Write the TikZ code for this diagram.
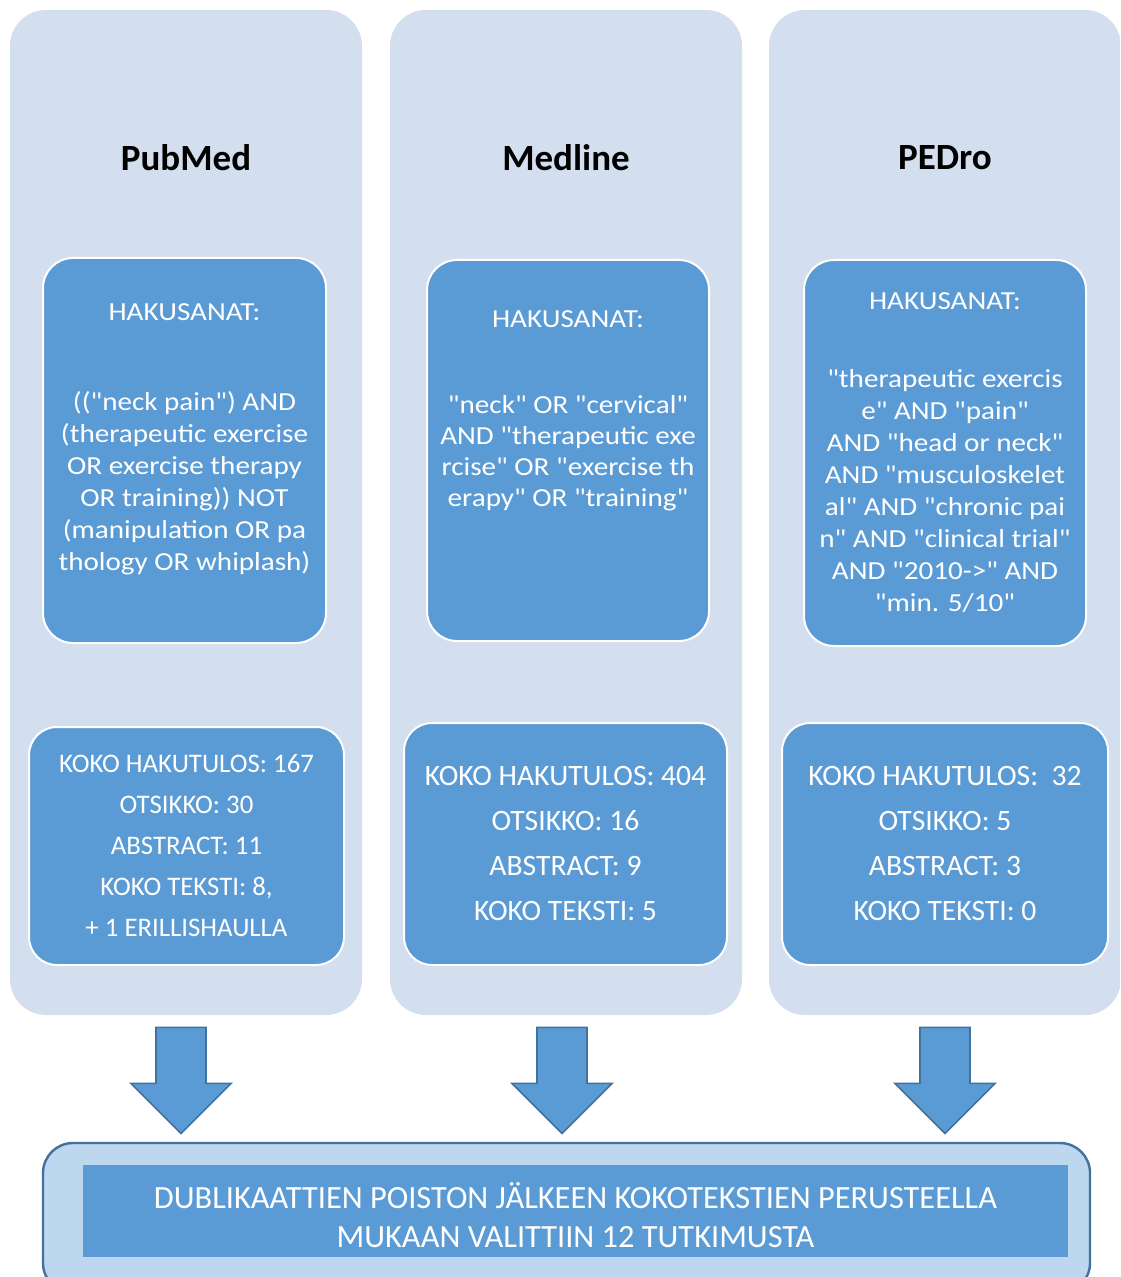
\documentclass[tikz,border=0pt]{standalone}
\usepackage{fontspec}
\setmainfont{Carlito}[Ligatures=TeXOff]
\newfontfamily\widefont{Carlito}[Ligatures=TeXOff, FakeStretch=1.12]
\usetikzlibrary{calc,positioning}
\definecolor{colbg}{HTML}{D3DEEF}
\definecolor{boxblue}{HTML}{5B9BD5}
\definecolor{edgeblue}{HTML}{41719C}
\definecolor{paleblue}{HTML}{BDD7EE}
\tikzset{
  dbcolumn/.style={fill=colbg, rounded corners=18pt, inner sep=0pt,
    minimum width=176pt, minimum height=502.5pt},
  dbtitle/.style={font=\bfseries\fontsize{18.5}{22}\selectfont},
  querybox/.style={fill=boxblue, draw=white, line width=1pt,
    rounded corners=15pt, inner sep=0pt},
  querytext/.style={text=white, align=center, inner sep=0pt, anchor=north,
    font=\widefont\fontsize{13}{16}\selectfont},
  resultbox/.style={fill=boxblue, draw=white, line width=1pt,
    rounded corners=14pt, inner sep=0pt, text=white, align=center,
    font=\fontsize{14.8}{22.5}\selectfont},
  downarrow/.pic={
    \draw[fill=boxblue, draw=edgeblue, line width=0.8pt, line join=miter]
      (-25,0) -- (25,0) -- (25,56) -- (50,56) -- (0,106)
      -- (-50,56) -- (-25,56) -- cycle;
  }
}

\begin{document}
\begin{tikzpicture}[x=0.5pt, y=-0.5pt]
    \useasboundingbox (0,0) rectangle (1120,1277);
    \clip (0,0) rectangle (1120,1277);

    % the three databases
    \node[dbcolumn] (pubmed) at (186,512.5) {};
    \node[dbcolumn] (medline) at (566,512.5) {};
    \node[dbcolumn] (pedro) at (945,512.5) {};

    \node[dbtitle] (pubmedtitle) at (186,158) {PubMed};
    \node[dbtitle] (medlinetitle) at (566,158) {Medline};
    \node[dbtitle] (pedrotitle) at (945,158) {PEDro};

    % search terms
    \node[querybox, minimum width=141.5pt, minimum height=192.5pt] (pubmedq) at (184.5,450.5) {};
    \node[querybox, minimum width=141pt, minimum height=190.5pt] (medlineq) at (568,450.5) {};
    \node[querybox, minimum width=141pt, minimum height=193pt] (pedroq) at (945,453) {};

    \node[querytext] (pubmedterms) at (184.5,303) {HAKUSANAT:\\[29pt]
        (("neck pain") AND\\
        (therapeutic exercise\\
        OR exercise therapy\\
        OR training)) NOT\\
        (manipulation OR pa\\
        thology OR whiplash)};
    \node[querytext, font=\widefont\fontsize{13}{15.5}\selectfont] (medlineterms) at (568,310) {HAKUSANAT:\\[27.5pt]
        "neck" OR "cervical"\\
        AND "therapeutic exe\\
        rcise" OR "exercise th\\
        erapy" OR "training"};
    \node[querytext] (pedroterms) at (945,292) {HAKUSANAT:\\[23pt]
        "therapeutic exercis\\
        e" AND "pain"\\
        AND "head or neck"\\
        AND "musculoskelet\\
        al" AND "chronic pai\\
        n" AND "clinical trial"\\
        AND "2010->" AND\\
        "min. 5/10"};

    % hit counts
    \node[resultbox, minimum width=157.5pt, minimum height=119pt,
        font=\fontsize{13.4}{20.5}\selectfont] (pubmedres) at (186.5,846)
        {KOKO HAKUTULOS: 167\\ OTSIKKO: 30\\ ABSTRACT: 11\\ KOKO TEKSTI: 8,\\ + 1 ERILLISHAULLA};
    \node[resultbox, minimum width=161.5pt, minimum height=121pt] (medlineres) at (565.5,844)
        {KOKO HAKUTULOS: 404\\ OTSIKKO: 16\\ ABSTRACT: 9\\ KOKO TEKSTI: 5};
    \node[resultbox, minimum width=163pt, minimum height=121pt] (pedrores) at (945,844)
        {KOKO HAKUTULOS:\ \ 32\\ OTSIKKO: 5\\ ABSTRACT: 3\\ KOKO TEKSTI: 0};

    % final selection
    \node[fill=paleblue, draw=edgeblue, line width=1.2pt, rounded corners=15pt,
        minimum width=523.5pt, minimum height=75pt, inner sep=0pt] (final) at (566.5,1218) {};
    \node[fill=boxblue, inner sep=0pt, minimum width=492.5pt, minimum height=46pt]
        (finalbar) at (575.5,1211) {};
    \node[text=white, align=center, inner sep=0pt,
        font=\fontsize{16.2}{19.5}\selectfont] (finaltext) at (575.5,1215.5)
        {DUBLIKAATTIEN POISTON JÄLKEEN KOKOTEKSTIEN PERUSTEELLA\\
         MUKAAN VALITTIIN 12 TUTKIMUSTA};

    \pic at ($(pubmed.south)+(-5,12)$) {downarrow};
    \pic at ($(medline.south)+(-4,12)$) {downarrow};
    \pic at ($(pedro.south)+(0,12)$) {downarrow};
\end{tikzpicture}
\end{document}
